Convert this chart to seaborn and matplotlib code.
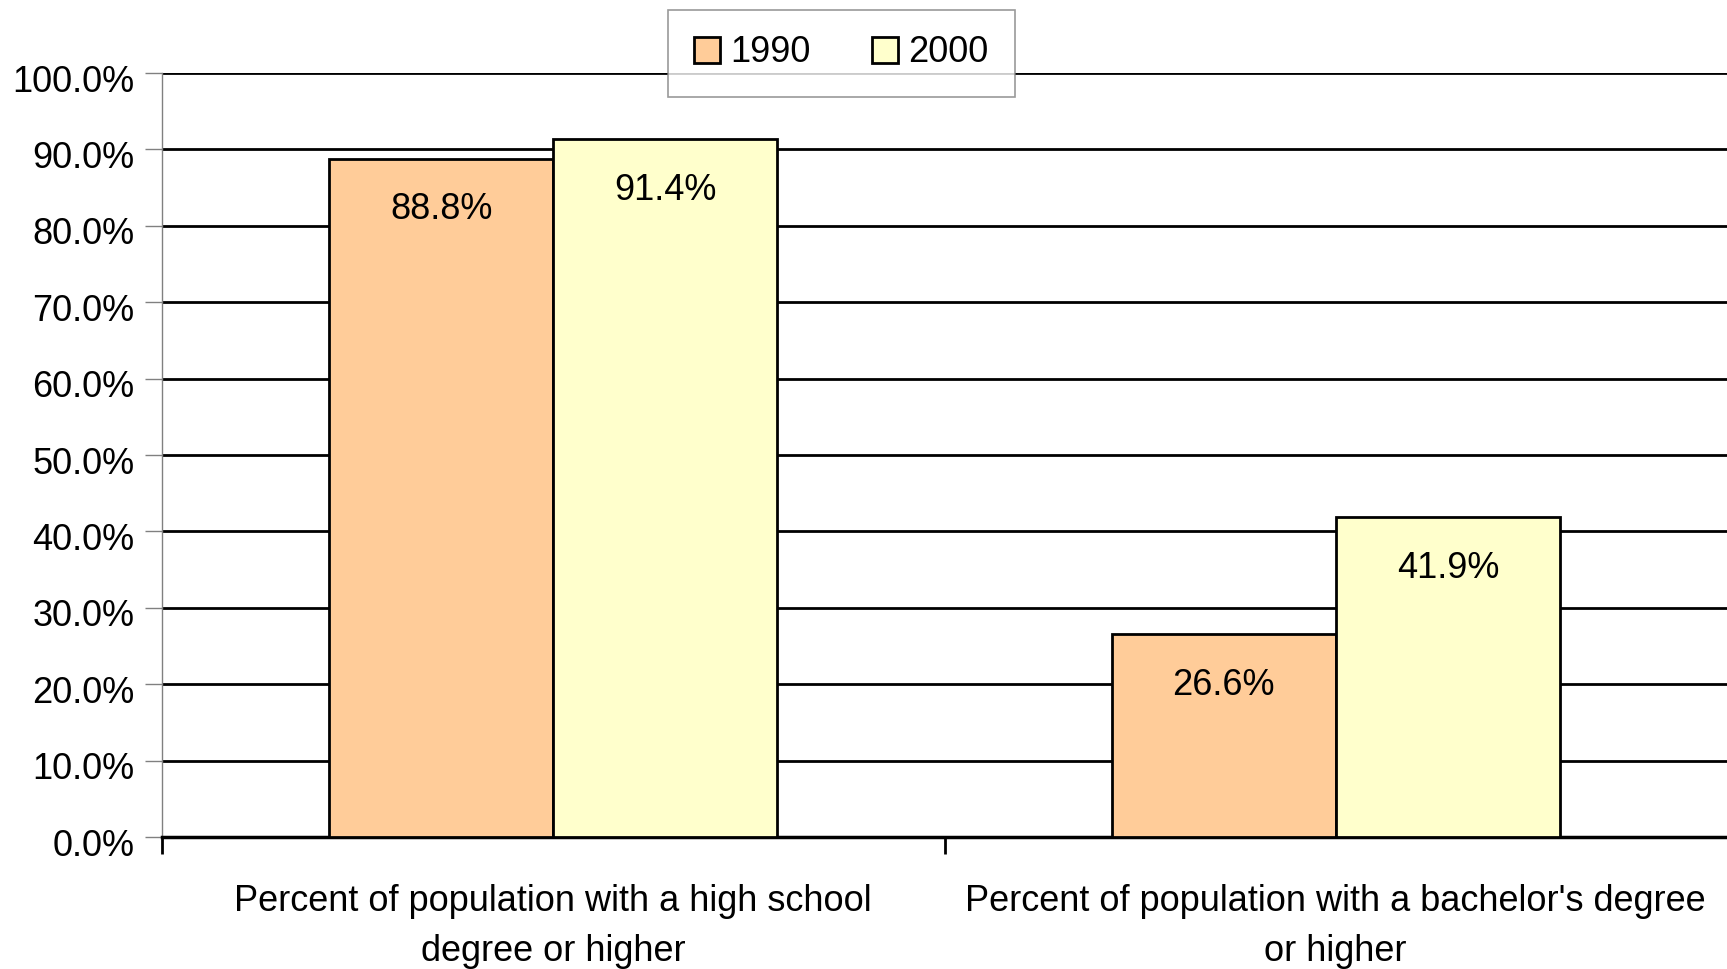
import matplotlib
matplotlib.use("Agg")
import matplotlib.pyplot as plt
import matplotlib.transforms as mtransforms
import pandas as pd
import seaborn as sns

# data
categories = [
    "Percent of population with a high school\ndegree or higher",
    "Percent of population with a bachelor's degree\nor higher",
]
years = ["1990", "2000"]
values_1990 = [88.8, 26.6]
values_2000 = [91.4, 41.9]
colors = ["#FFCC99", "#FFFFCC"]

df = pd.DataFrame({
    "category": categories * 2,
    "year": [years[0]] * 2 + [years[1]] * 2,
    "value": values_1990 + values_2000,
})

sns.set_theme(style="white")
plt.rcParams["font.family"] = ["Liberation Sans", "DejaVu Sans"]
plt.rcParams["text.color"] = "black"
plt.rcParams["xtick.color"] = "black"
plt.rcParams["ytick.color"] = "black"

fig = plt.figure(figsize=(17.27, 9.69), dpi=100)
ax = fig.add_axes([162 / 1727, 1 - 837 / 969, 1 - 162 / 1727, (837 - 73) / 969])

sns.barplot(data=df, x="category", y="value", hue="year", palette=colors,
            saturation=1, width=0.573, edgecolor="black", linewidth=2,
            ax=ax, zorder=3)

ax.set_ylim(0, 100)
ax.set_xlim(-0.5, 1.5)
ax.set_yticks(range(0, 101, 10))
ax.set_yticklabels([f"{v:.1f}%" for v in range(0, 101, 10)], fontsize=26)
ax.yaxis.grid(True, color="black", linewidth=2)
ax.set_axisbelow(True)
ax.set_xlabel("")
ax.set_ylabel("")

# category labels, separators as minor ticks
ax.set_xticks([0, 1])
ax.set_xticklabels(categories, fontsize=26, linespacing=1.55)
ax.set_xticks([-0.5, 0.5], minor=True)
ax.tick_params(axis="x", which="major", length=0, pad=34)
ax.tick_params(axis="x", which="minor", length=12, width=2, color="black", direction="out", bottom=True)
ax.tick_params(axis="y", length=12, width=1, color="#808080", labelcolor="black",
               direction="out", left=True, pad=8)

# y labels sit a touch below their gridline in the original
shift = mtransforms.ScaledTranslation(0, -0.05, fig.dpi_scale_trans)
for tick in ax.yaxis.get_major_ticks():
    tick.label1.set_transform(tick.label1.get_transform() + shift)

for side in ["top", "right"]:
    ax.spines[side].set_visible(False)
ax.spines["left"].set_color("#808080")
ax.spines["left"].set_linewidth(1)
ax.spines["bottom"].set_color("black")
ax.spines["bottom"].set_linewidth(2.5)

for cont in ax.containers:
    for bar in cont:
        h = bar.get_height()
        ax.annotate(f"{h:.1f}%", (bar.get_x() + bar.get_width() / 2, h),
                    xytext=(0, -37), textcoords="offset points",
                    ha="center", va="center", fontsize=26, color="black", zorder=5)

leg = ax.legend(loc="center", bbox_to_anchor=(841.5 / 1727, 1 - 53 / 969),
                bbox_transform=fig.transFigure, ncol=2, fontsize=26,
                frameon=True, fancybox=False, edgecolor="#808080",
                handlelength=0.7, handleheight=0.7, handletextpad=0.3,
                columnspacing=1.7, borderpad=0.72, borderaxespad=0)
leg.get_frame().set_linewidth(1.2)
leg.set_zorder(10)
for patch in leg.get_patches():
    patch.set_edgecolor("black")
    patch.set_linewidth(2)

fig.savefig("out.png", dpi=100)
